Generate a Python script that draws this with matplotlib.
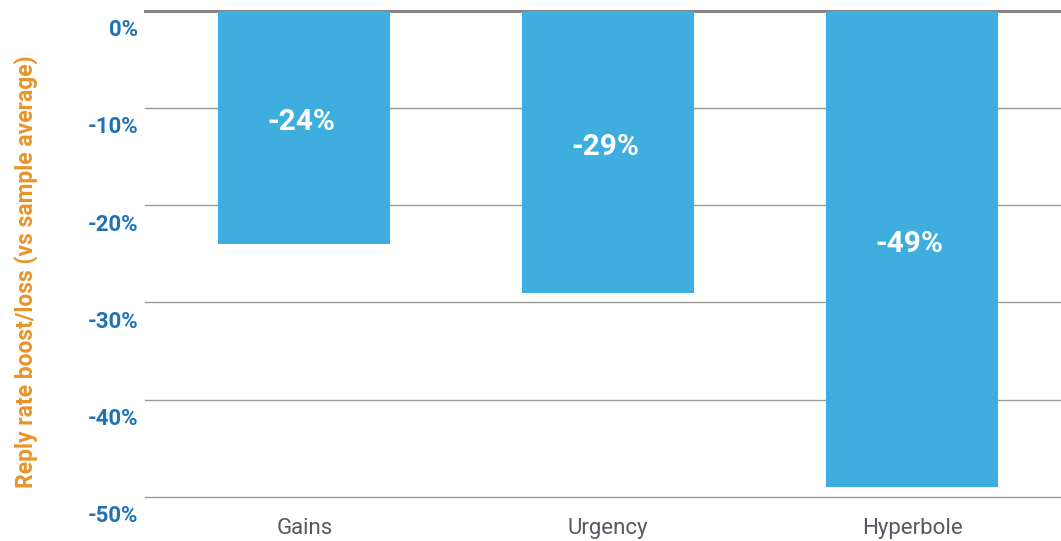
import matplotlib
matplotlib.use("Agg")
import matplotlib.pyplot as plt
from matplotlib.transforms import ScaledTranslation

categories = ["Gains", "Urgency", "Hyperbole"]
values = [-24, -29, -49]
bar_labels = ["-24%", "-29%", "-49%"]
yticks = [0, -10, -20, -30, -40, -50]
ytick_labels = ["0%", "-10%", "-20%", "-30%", "-40%", "-50%"]

plt.rcParams['font.family'] = ['Roboto', 'DejaVu Sans']

fig = plt.figure(figsize=(10.61, 5.41), dpi=100)
ax = fig.add_axes([145/1061, 1-497/541, 1-145/1061, (497-10.5)/541])

x = list(range(len(categories)))
bars = ax.bar(x, values, width=0.567, color="#3daede", zorder=3)
for xi, v, lab in zip(x, values, bar_labels):
    ax.text(xi - 0.01, v/2 + 0.5, lab, ha="center", va="center", color="white",
            fontsize=21.5, fontweight="bold", zorder=4)

ax.set_xlim(-0.524, 2.49)
ax.set_ylim(-50, 0)
ax.set_yticks(yticks)
ax.set_yticklabels(ytick_labels)
ax.set_xticks(x)
ax.set_xticklabels(categories)

for t in yticks[1:]:
    ax.axhline(t, color="#9a9a9a", lw=1.0, zorder=1, clip_on=False)
ax.axhline(0, color="#858585", lw=2.2, zorder=2, clip_on=False)

for s in ax.spines.values():
    s.set_visible(False)
ax.tick_params(axis="both", length=0)
ax.tick_params(axis="y", pad=5, labelsize=16, labelcolor="#1f73b4")
ax.tick_params(axis="x", pad=15, labelsize=16, labelcolor="#555a60")
off = ScaledTranslation(0, -17/100, fig.dpi_scale_trans)
for lbl in ax.get_yticklabels():
    lbl.set_fontweight("bold")
    lbl.set_transform(lbl.get_transform() + off)

ax.set_ylabel("Reply rate boost/loss (vs sample average)", color="#e8942a",
              fontsize=16.5, fontweight="bold")
ax.yaxis.set_label_coords(-(145-38)/(1061-145), 0.463)

fig.savefig("out.png", dpi=100)
